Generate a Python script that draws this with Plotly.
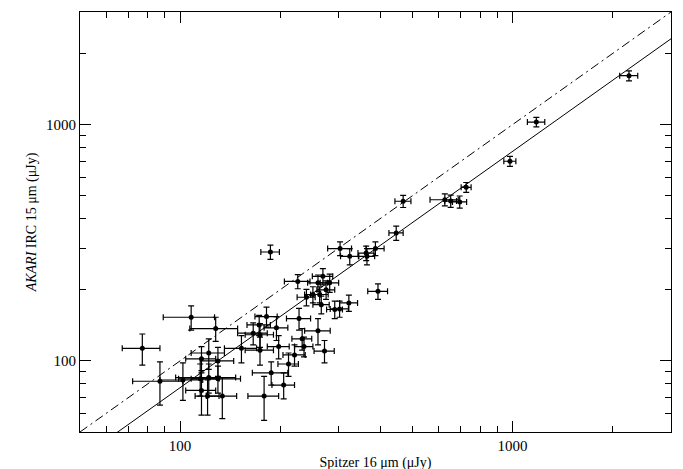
import plotly.graph_objects as go

# Spitzer 16 um flux (uJy) and AKARI IRC 15 um flux (uJy), with errors
spitzer = [2242, 1180, 983, 726, 626, 652, 694, 469, 447, 303,
           324, 363, 365, 387, 394, 187, 226, 260, 269, 282,
           275, 251, 240, 263, 266, 292, 302, 322, 108, 128,
           173, 182, 166, 174, 195, 228, 153, 174, 198, 233,
           236, 221, 212, 272, 122, 116, 130, 188, 205, 179,
           122, 130, 115, 116, 134, 121, 77, 87, 102, 260]
spitzer_err = [140, 71, 41, 25, 61, 27, 34, 26, 22, 25,
               20, 20, 20, 24, 27, 12, 20, 18, 19, 18,
               17, 14, 15, 16, 15, 16, 19, 20, 19, 21,
               14, 14, 17, 17, 16, 19, 17, 17, 15, 16,
               15, 17, 15, 19, 14, 12, 15, 23, 16, 19,
               25, 22, 16, 12, 14, 10, 10, 15, 15, 23]
akari = [1612, 1026, 700, 543, 481, 475, 471, 474, 348, 299,
         277, 286, 277, 299, 197, 289, 217, 214, 228, 214,
         200, 191, 186, 191, 173, 165, 166, 176, 153, 137,
         142, 154, 131, 129, 138, 151, 113, 111, 115, 124,
         115, 106, 97, 110, 108, 102, 100, 89, 79, 71,
         85, 84, 84, 75, 71, 71, 113, 82, 83, 134]
akari_err = [79, 47, 34, 26, 28, 28, 28, 28, 24, 20,
             22, 20, 22, 20, 15, 20, 15, 17, 18, 19,
             18, 15, 15, 15, 15, 14, 13, 14, 18, 16,
             14, 15, 14, 15, 16, 16, 15, 15, 13, 13,
             11, 11, 11, 12, 16, 13, 14, 10, 10, 15,
             12, 11, 13, 16, 14, 12, 17, 17, 15, 17]

# reference lines: one-to-one and best-fit ratio
line_x = [50, 3000]
fit_ratio = 0.77

font_family = "Liberation Serif, Times New Roman, serif"

fig = go.Figure()
fig.add_trace(go.Scatter(
    x=line_x, y=line_x, mode="lines",
    line=dict(color="black", width=1, dash="9px,4px,2px,4px"),
    showlegend=False, hoverinfo="skip"))
fig.add_trace(go.Scatter(
    x=line_x, y=[v * fit_ratio for v in line_x], mode="lines",
    line=dict(color="black", width=1),
    showlegend=False, hoverinfo="skip"))
fig.add_trace(go.Scatter(
    x=spitzer, y=akari, mode="markers",
    marker=dict(color="black", size=5),
    error_x=dict(type="data", array=spitzer_err, color="black", thickness=1.2, width=3),
    error_y=dict(type="data", array=akari_err, color="black", thickness=1.2, width=3),
    showlegend=False))

axis_common = dict(
    type="log", showgrid=False, zeroline=False, automargin=False,
    showline=True, linecolor="black", linewidth=1, mirror="ticks",
    ticks="inside", ticklen=11, tickwidth=1, tickcolor="black",
    dtick=1, exponentformat="none",
    minor=dict(ticks="inside", ticklen=6, tickwidth=1, tickcolor="black", showgrid=False),
    tickfont=dict(family=font_family, size=15, color="black"),
)

fig.update_layout(
    width=683, height=469,
    margin=dict(l=72, r=20, t=4, b=45),
    paper_bgcolor="white", plot_bgcolor="white",
    font=dict(family=font_family, color="black"),
    xaxis=dict(axis_common, range=[1.699, 3.477],
               title=dict(text="Spitzer 16 μm (μJy)", font=dict(size=14), standoff=4)),
    yaxis=dict(axis_common, range=[1.699, 3.477],
               title=dict(text="<i>AKARI</i> IRC 15 μm (μJy)", font=dict(size=14), standoff=6)),
)

fig.write_html("out.html")
